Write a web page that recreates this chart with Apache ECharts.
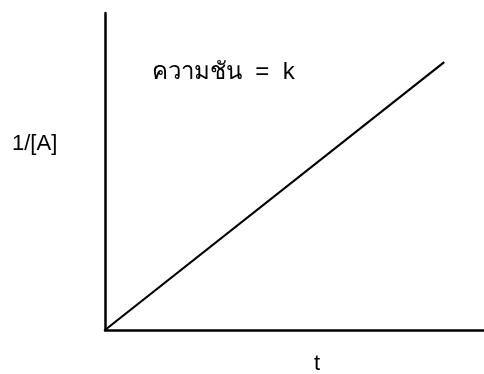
<!DOCTYPE html>
<html lang="th">
<head>
    <meta charset="UTF-8">
    <title>1/[A] vs t</title>
    <script src="https://cdn.jsdelivr.net/npm/echarts@6/dist/echarts.min.js"></script>
    <style>
        html, body { margin: 0; padding: 0; background: #fff; }
        #main { width: 484px; height: 374px; }
    </style>
</head>
<body>
<div id="main"></div>
<script type="text/javascript">
    // ข้อมูล: เส้นตรง 1/[A] กับ t (ความชันคือ k)
    var tValues = [0, 8.95];
    var invA = [0, 8.45];
    var slopeLabel = 'ความชัน  =  k';
    var xName = 't';
    var yName = '1/[A]';

    var points = tValues.map(function (t, i) { return [t, invA[i]]; });

    var myChart = echarts.init(document.getElementById('main'));
    var axisLine = { show: true, lineStyle: { color: '#000', width: 2.5 } };
    var font = 'Arial, Liberation Sans, sans-serif';

    var option = {
        backgroundColor: '#fff',
        animation: false,
        grid: { left: 105, right: 0, top: 13, bottom: 44, outerBoundsMode: 'none' },
        xAxis: {
            type: 'value', min: 0, max: 10,
            axisLine: axisLine, axisTick: { show: false }, axisLabel: { show: false },
            splitLine: { show: false }
        },
        yAxis: {
            type: 'value', min: 0, max: 10,
            axisLine: axisLine, axisTick: { show: false }, axisLabel: { show: false },
            splitLine: { show: false }
        },
        graphic: [{
            type: 'text', left: 152, top: 60,
            style: { text: slopeLabel, fill: '#000', fontSize: 24, fontFamily: font }
        }, {
            type: 'text', left: 12, top: 133,
            style: { text: yName, fill: '#000', fontSize: 22, fontFamily: font }
        }, {
            type: 'text', left: 314, top: 353,
            style: { text: xName, fill: '#000', fontSize: 22, fontFamily: font }
        }],
        series: [{
            type: 'line',
            data: points,
            symbol: 'none',
            lineStyle: { color: '#000', width: 2.2 }
        }]
    };

    myChart.setOption(option);
</script>
</body>
</html>
